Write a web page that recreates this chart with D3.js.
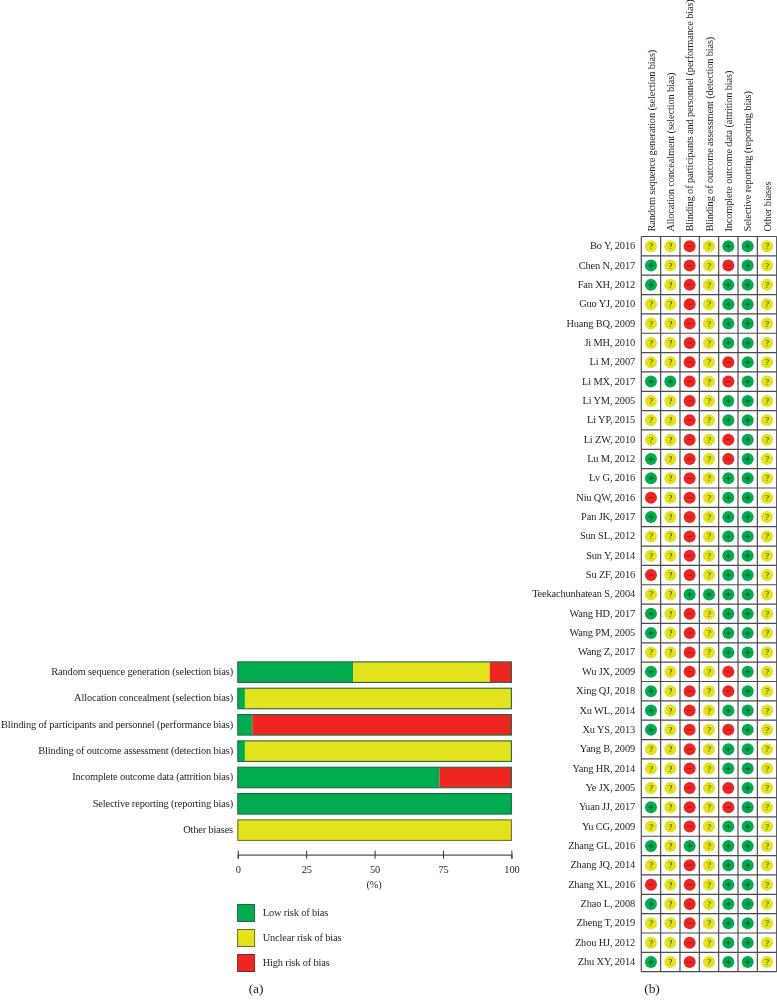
<!DOCTYPE html>
<html><head><meta charset="utf-8">
<script src="https://cdn.jsdelivr.net/npm/d3@7/dist/d3.min.js"></script>
<style>
html,body{margin:0;padding:0;background:#fff}
svg{display:block}
text{font-family:"Liberation Serif",serif;fill:#231f20;letter-spacing:-0.15px}
</style></head><body>
<div id="chart"></div>
<script>
const domains = ["Random sequence generation (selection bias)","Allocation concealment (selection bias)","Blinding of participants and personnel (performance bias)","Blinding of outcome assessment (detection bias)","Incomplete outcome data (attrition bias)","Selective reporting (reporting bias)","Other biases"];
const lowRisk = [42.1, 2.6, 5.3, 2.6, 73.7, 100, 0];
const unclearRisk = [50, 97.4, 0, 97.4, 0, 0, 100];
const highRisk = [7.9, 0, 94.7, 0, 26.3, 0, 0];
const axisTicks = [0,25,50,75,100];
const legendLabels = ["Low risk of bias","Unclear risk of bias","High risk of bias"];
const studies = ["Bo Y, 2016","Chen N, 2017","Fan XH, 2012","Guo YJ, 2010","Huang BQ, 2009","Ji MH, 2010","Li M, 2007","Li MX, 2017","Li YM, 2005","Li YP, 2015","Li ZW, 2010","Lu M, 2012","Lv G, 2016","Niu QW, 2016","Pan JK, 2017","Sun SL, 2012","Sun Y, 2014","Su ZF, 2016","Teekachunhatean S, 2004","Wang HD, 2017","Wang PM, 2005","Wang Z, 2017","Wu JX, 2009","Xing QJ, 2018","Xu WL, 2014","Xu YS, 2013","Yang B, 2009","Yang HR, 2014","Ye JX, 2005","Yuan JJ, 2017","Yu CG, 2009","Zhang GL, 2016","Zhang JQ, 2014","Zhang XL, 2016","Zhao L, 2008","Zheng T, 2019","Zhou HJ, 2012","Zhu XY, 2014"];
const judgements = ["??-?++?","+?-?-+?","+?-?++?","??-?++?","??-?++?","??-?++?","??-?-+?","++-?-+?","??-?++?","??-?++?","??-?-+?","+?-?-+?","+?-?++?","-?-?++?","+?-?++?","??-?++?","??-?++?","-?-?++?","??++++?","+?-?++?","+?-?++?","??-?++?","+?-?-+?","+?-?-+?","+?-?++?","+?-?-+?","??-?++?","??-?++?","??-?-+?","+?-?-+?","??-?++?","+?+?++?","??-?++?","-?-?++?","+?-?++?","??-?++?","??-?++?","+?-?++?"];
const colours = ["#00ac4f","#e2e31a","#ee2524"];
const fs = 10.4;

const svg = d3.select("#chart").append("svg").attr("width",777).attr("height",1008);
svg.append("defs").append("filter").attr("id","soft").append("feGaussianBlur").attr("stdDeviation",0.3);
const root = svg.append("g").attr("filter","url(#soft)");
root.append("rect").attr("width",777).attr("height",1008).attr("fill","#fff");

// Panel (a)
const x = d3.scaleLinear().domain([0,100]).range([237.8,511.4]);
const yBar = d3.scaleBand().domain(domains).range([659,843.3]).paddingInner(0.22).paddingOuter(0.11);
const series = [lowRisk,unclearRisk,highRisk];
const strokes = ["#1d6b42","#6f6f24","#7a2a2a"];

const barRows = root.append("g").selectAll("g").data(domains).join("g");
barRows.each(function(d,i){
  const g = d3.select(this);
  let acc = 0;
  series.forEach((s,k)=>{
    if(s[i]>0){
      g.append("rect").attr("x",x(acc)).attr("y",yBar(d)).attr("width",x(acc+s[i])-x(acc)).attr("height",yBar.bandwidth()).attr("fill",colours[k]);
      acc += s[i];
    }
  });
  const last = series.findIndex(s=>s[i]>0);
  g.append("rect").attr("x",x(0)).attr("y",yBar(d)).attr("width",x(100)-x(0)).attr("height",yBar.bandwidth())
    .attr("fill","none").attr("stroke",strokes[last]).attr("stroke-width",1.1);
});
root.append("g").selectAll("text").data(domains).join("text")
  .attr("x",233).attr("y",d=>yBar(d)+yBar.bandwidth()/2+3)
  .attr("text-anchor","end").attr("font-size",fs).text(d=>d);

const axis = root.append("g").attr("transform","translate(0,854.7)")
  .call(d3.axisBottom(x).tickValues(axisTicks).tickSizeOuter(0).tickSize(4).tickPadding(7));
axis.select(".domain").attr("stroke","#555").attr("stroke-width",1.3);
axis.selectAll(".tick line").attr("y1",-4).attr("y2",4).attr("stroke","#333").attr("stroke-width",1);
axis.selectAll(".tick text").attr("font-family","Liberation Serif").attr("font-size",fs).attr("fill","#231f20");
root.append("text").attr("x",374).attr("y",888).attr("text-anchor","middle").attr("font-size",fs).text("(%)");

const legendY = d3.scalePoint().domain(legendLabels).range([913,963]);
const legend = root.append("g").selectAll("g").data(legendLabels).join("g");
legend.append("rect").attr("x",237.6).attr("y",d=>legendY(d)-8.5).attr("width",17).attr("height",17)
  .attr("fill",(d,i)=>colours[i]).attr("stroke",(d,i)=>strokes[i]).attr("stroke-width",1);
legend.append("text").attr("x",262.7).attr("y",d=>legendY(d)+2.5).attr("font-size",fs).text(d=>d);
root.append("text").attr("x",256).attr("y",993).attr("text-anchor","middle").attr("font-size",13.5).text("(a)");

// Panel (b)
const xCol = d3.scaleBand().domain(domains).range([641.3,776.7]);
const yRow = d3.scaleBand().domain(studies).range([236.5,971.7]);
const grid = root.append("g").attr("stroke","#4d4d4d").attr("stroke-width",1.2);
grid.selectAll(".v").data([...domains,null]).join("line").attr("class","v")
  .attr("x1",d=>d?xCol(d):xCol.range()[1]).attr("x2",d=>d?xCol(d):xCol.range()[1]).attr("y1",236.5).attr("y2",971.7);
grid.selectAll(".h").data([...studies,null]).join("line").attr("class","h")
  .attr("y1",d=>d?yRow(d):yRow.range()[1]).attr("y2",d=>d?yRow(d):yRow.range()[1]).attr("x1",641.3).attr("x2",776.7);

root.append("g").selectAll("text").data(domains).join("text")
  .attr("transform",d=>`translate(${xCol(d)+xCol.bandwidth()/2+3.6},231.5) rotate(-90)`)
  .attr("font-size",fs).text(d=>d);
root.append("g").selectAll("text").data(studies).join("text")
  .attr("x",635).attr("y",d=>yRow(d)+yRow.bandwidth()/2+3)
  .attr("text-anchor","end").attr("font-size",fs).text(d=>d);

const colourOf = {"+":colours[0],"?":colours[1],"-":colours[2]};
const cells = [];
studies.forEach((s,i)=>domains.forEach((d,j)=>cells.push({s,d,v:judgements[i][j]})));
const cell = root.append("g").selectAll("g").data(cells).join("g")
  .attr("transform",c=>`translate(${xCol(c.d)+xCol.bandwidth()/2},${yRow(c.s)+yRow.bandwidth()/2})`);
cell.append("circle").attr("r",6).attr("fill",c=>colourOf[c.v]);
cell.filter(c=>c.v==="?").append("text").attr("text-anchor","middle").attr("y",3).attr("font-size",8.5)
  .attr("font-family","Liberation Sans").attr("fill","#55551a").text("?");
cell.filter(c=>c.v!=="?").append("line").attr("x1",-2.6).attr("x2",2.6).attr("stroke",c=>c.v==="+"?"#0b4a2a":"#8a1c1c").attr("stroke-width",0.9);
cell.filter(c=>c.v==="+").append("line").attr("y1",-2.6).attr("y2",2.6).attr("stroke","#0b4a2a").attr("stroke-width",0.9);
root.append("text").attr("x",652).attr("y",993).attr("text-anchor","middle").attr("font-size",13.5).text("(b)");
</script>
</body></html>
